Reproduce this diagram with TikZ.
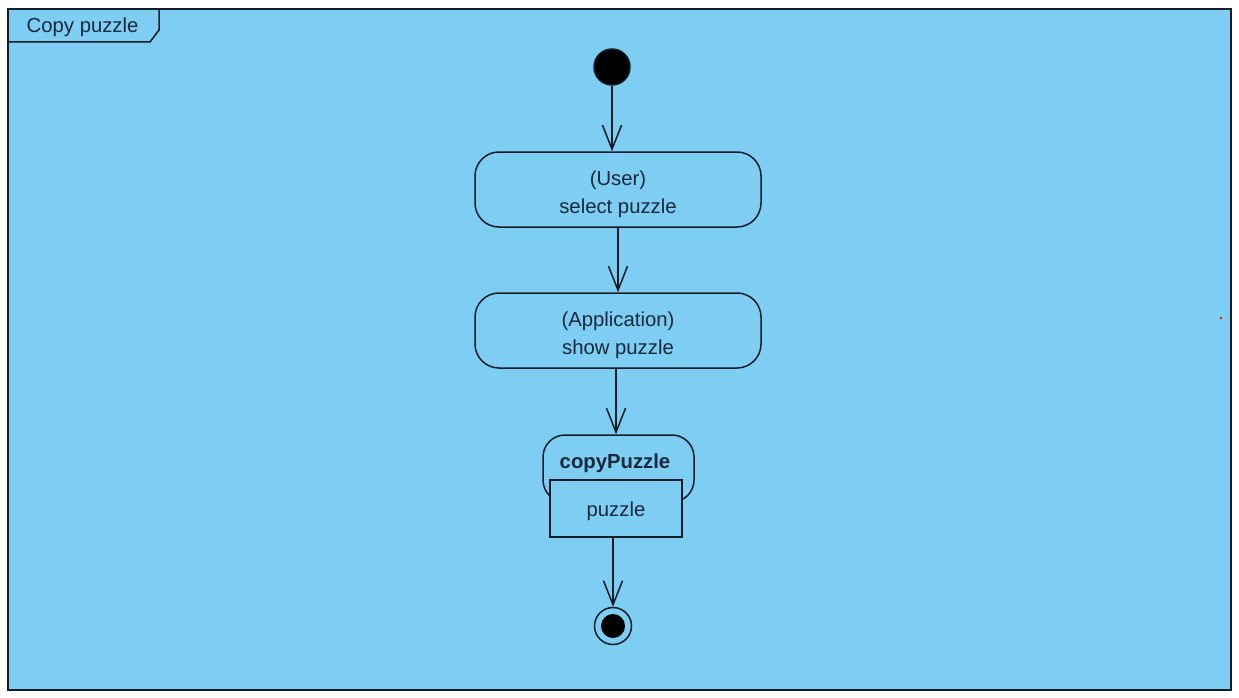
\documentclass[tikz,border=0pt]{standalone}
\usepackage{fontspec}
\setmainfont{Liberation Sans}
\usetikzlibrary{arrows.meta}
\definecolor{bg}{RGB}{125,206,242}
\definecolor{ln}{RGB}{20,28,40}
\definecolor{tx}{RGB}{25,40,60}
\begin{document}
\begin{tikzpicture}[x=1pt,y=-1pt,line width=1.5pt,
  txt/.style={text=tx,font=\fontsize{20.3}{28}\selectfont,inner sep=0pt,align=center},
  action/.style={draw=ln,rectangle,rounded corners=24pt,minimum width=286pt,minimum height=75pt},
  callbox/.style={draw=ln,rectangle,rounded corners=22pt,minimum width=151pt,minimum height=67pt,inner sep=0pt},
  pinbox/.style={draw=ln,fill=bg,rectangle,minimum width=132pt,minimum height=57pt},
  initnode/.style={circle,fill=black,draw=ln,minimum size=36pt,inner sep=0pt},
  finalnode/.style={circle,draw=ln,minimum size=37pt,inner sep=0pt},
  flow/.style={draw=ln,-{Straight Barb[length=24pt,width=19pt,line width=1.5pt]}}
]
\useasboundingbox (0,0) rectangle (1239,698);
\fill[white] (0,0) rectangle (1239,698);
\draw[draw=ln,fill=bg] (8,9) rectangle (1231,690);
\draw[draw=ln] (8,42) -- (150,42) -- (159,30) -- (159,9);
\node[txt,anchor=west] (title) at (26,27) {Copy puzzle};

\node[initnode] (start) at (612,67) {};
\node[action,label={[txt,yshift=-5pt]center:(User)\\select puzzle}] (a1) at (618,189.5) {};
\node[action,label={[txt,yshift=-5pt]center:(Application)\\show puzzle}] (a2) at (618,330.5) {};
\node[callbox] (call) at (618.5,468.5) {};
\node[txt,font=\fontsize{20.3}{28}\selectfont\bfseries] (calltxt) at (615,463) {copyPuzzle};
\node[pinbox,label={[txt,yshift=-3pt]center:puzzle}] (pin) at (616,508.5) {};
\node[finalnode] (end) at (613,626) {};
\fill[black] (end.center) circle (12);

\draw[flow] (start) -- (start |- a1.north);
\draw[flow] (a1.south) -- (a2.north);
\draw[flow] (a2.south -| pin) -- (pin |- call.north);
\draw[flow] (pin.south -| end) -- (end.north);

\fill[red] (1221,318) circle (1.3);
\end{tikzpicture}
\end{document}
